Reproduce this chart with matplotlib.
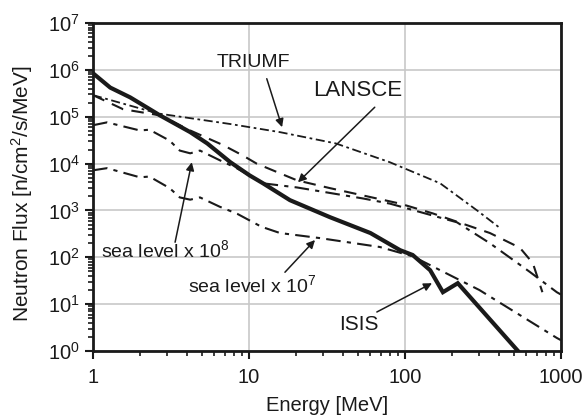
import numpy as np
import matplotlib.pyplot as plt
from matplotlib.ticker import LogLocator, FixedLocator, FixedFormatter

plt.rcParams['font.family'] = ['Liberation Sans', 'DejaVu Sans']
plt.rcParams['mathtext.fontset'] = 'custom'
plt.rcParams['mathtext.rm'] = 'Liberation Sans'
plt.rcParams['mathtext.it'] = 'Liberation Sans'

# ISIS spectrum
isis_e = [1, 1.29, 1.73, 2.69, 4.2, 5.4, 7.6, 10.1, 12.3, 18.3, 33, 60, 93, 112, 145, 175, 218, 530]
isis_f = [8.5e5, 4.2e5, 2.6e5, 1.07e5, 4.7e4, 2.7e4, 1.07e4, 5.6e3, 3.8e3, 1.66e3, 720, 330, 142, 112, 53, 18, 28, 1]

# TRIUMF spectrum
triumf_e = [1, 2.6, 7.6, 15.8, 36, 80, 168, 290, 407]
triumf_f = [2.9e5, 1.18e5, 7.0e4, 4.7e4, 2.7e4, 1.07e4, 3.8e3, 1.0e3, 4.2e2]

# LANSCE spectrum
lansce_e = [1, 1.56, 2.7, 4.2, 6.8, 9.1, 11.2, 20.3, 33, 93, 150, 350, 545, 660, 760]
lansce_f = [2.9e5, 1.45e5, 1.07e5, 5.1e4, 2.5e4, 1.5e4, 1.0e4, 4.4e3, 3.0e3, 1.4e3, 870, 330, 160, 75, 18]

# sea level spectrum x 10^8
sea8_e = [1, 1.23, 2.0, 2.3, 3.1, 3.6, 4.2, 4.85, 6.5, 8.4, 12.3, 20.3, 54, 80, 215, 350, 630, 940, 1000]
sea8_f = [6.6e4, 7.6e4, 5.1e4, 5.3e4, 3.1e4, 1.9e4, 1.66e4, 1.9e4, 1.18e4, 7.9e3, 3.8e3, 3.1e3, 1.8e3, 1.4e3, 560, 200, 49, 18, 16]

# sea level spectrum x 10^7
sea7_e = [1, 1.23, 2.0, 2.3, 3.1, 3.6, 4.2, 4.85, 6.5, 8.4, 12, 15.8, 28.5, 69, 112, 300, 940, 1000]
sea7_f = [7.2e3, 8.0e3, 5.1e3, 5.3e3, 3.0e3, 1.9e3, 1.7e3, 1.9e3, 1.2e3, 850, 450, 330, 257, 166, 105, 20, 1.9, 1.7]

xticks = [1, 10, 100, 1000]
yticks = [10.0 ** k for k in range(0, 8)]

fig = plt.figure(figsize=(5.87, 4.2), dpi=100)
ax = fig.add_axes([0.1584, 0.1643, 0.7973, 0.7807])

c = '#1a1a1a'
ax.plot(isis_e, isis_f, color=c, lw=3.0, solid_joinstyle='miter')
ax.plot(triumf_e, triumf_f, color=c, lw=1.3, dashes=(5, 2, 1.5, 2))
ax.plot(lansce_e, lansce_f, color=c, lw=1.5, dashes=(6, 4))
ax.plot(sea8_e, sea8_f, color=c, lw=1.5, dashes=(7, 3, 2, 3))
ax.plot(sea7_e, sea7_f, color=c, lw=1.5, dashes=(7, 3, 2, 3))

ax.set_xscale('log')
ax.set_yscale('log')
ax.set_xlim(1, 1000)
ax.set_ylim(1, 1e7)

ax.xaxis.set_major_locator(FixedLocator(xticks))
ax.xaxis.set_major_formatter(FixedFormatter([str(v) for v in xticks]))
ax.yaxis.set_major_locator(FixedLocator(yticks))
ax.yaxis.set_major_formatter(FixedFormatter([r'$10^{%d}$' % k for k in range(0, 8)]))
ax.xaxis.set_minor_locator(LogLocator(base=10, subs=np.arange(2, 10), numticks=20))
ax.yaxis.set_minor_locator(LogLocator(base=10, subs=np.arange(2, 10), numticks=20))
ax.tick_params(which='major', direction='out', length=6, width=1.5, labelsize=14.5, colors=c)
ax.tick_params(which='minor', direction='out', length=3.5, width=1.2, colors=c)
ax.tick_params(axis='x', pad=6)

ax.grid(True, which='major', color='#c8c8c8', lw=1.2)
for s in ax.spines.values():
    s.set_linewidth(2)
    s.set_color(c)

ax.set_xlabel('Energy [MeV]', fontsize=14.5, color=c, labelpad=7)
ax.set_ylabel(r'Neutron Flux [n/cm$^2$/s/MeV]', fontsize=15, color=c)
ax.yaxis.set_label_coords(-0.123, 0.479)

arrow = dict(arrowstyle='-|>', color=c, lw=1.1, mutation_scale=12, shrinkA=0, shrinkB=0)

# labels and arrows
ax.text(10.7, 1.45e6, 'TRIUMF', fontsize=14, ha='center', va='center', color=c)
ax.annotate('', xy=(16.3, 6e4), xytext=(13.0, 6.5e5), arrowprops=arrow)

ax.text(50, 3.7e5, 'LANSCE', fontsize=16, ha='center', va='center', color=c)
ax.annotate('', xy=(20.6, 4e3), xytext=(64, 1.6e5), arrowprops=arrow)

ax.text(2.9, 1.42e2, 'sea level x 10$^8$', fontsize=14, ha='center', va='center', color=c)
ax.annotate('', xy=(4.3, 1.07e4), xytext=(3.36, 2.1e2), arrowprops=arrow)

ax.text(10.5, 25.6, 'sea level x 10$^7$', fontsize=14, ha='center', va='center', color=c)
ax.annotate('', xy=(26.5, 2.34e2), xytext=(17, 48), arrowprops=arrow)

ax.text(51, 3.6, 'ISIS', fontsize=15, ha='center', va='center', color=c)
ax.annotate('', xy=(149, 28), xytext=(66, 6.8), arrowprops=arrow)

fig.savefig('out.png', dpi=100)
